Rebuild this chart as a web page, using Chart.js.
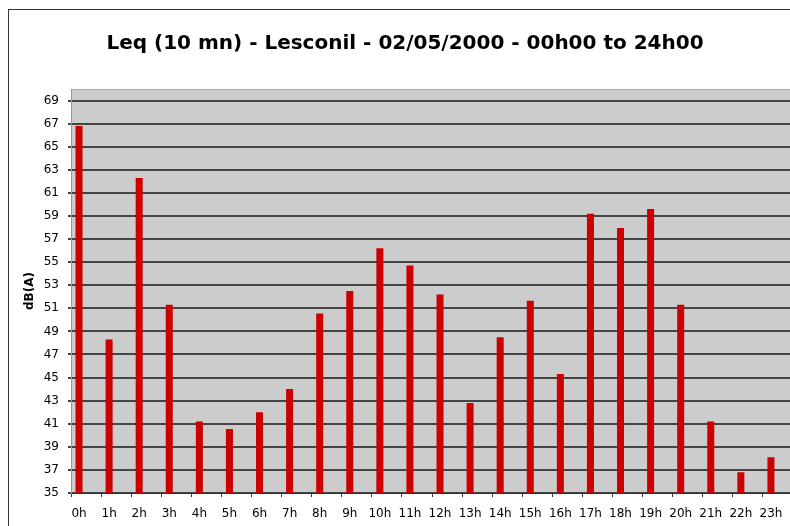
<!DOCTYPE html>
<html>
<head>
<meta charset="utf-8">
<title>Leq Lesconil</title>
<script src="https://cdn.jsdelivr.net/npm/chart.js@4.4.1/dist/chart.umd.min.js"></script>
<style>
  html, body { margin: 0; padding: 0; background: #fff; overflow: hidden; }
  #wrap { position: absolute; left: 0; top: 0; width: 810px; height: 540px; }
</style>
</head>
<body>
<div id="wrap"><canvas id="leqChart" width="810" height="540"></canvas></div>
<script>
// Données
const hours = ["0h", "1h", "2h", "3h", "4h", "5h", "6h", "7h", "8h", "9h", "10h", "11h",
  "12h", "13h", "14h", "15h", "16h", "17h", "18h", "19h", "20h", "21h", "22h", "23h"];
const leqValues = [66.8, 48.3, 62.3, 51.3, 41.2, 40.55, 42.0, 44.0, 50.55, 52.5, 56.2, 54.7,
  52.2, 42.8, 48.5, 51.65, 45.3, 59.2, 57.95, 59.6, 51.3, 41.2, 36.8, 38.1];
const yTickValues = [35, 37, 39, 41, 43, 45, 47, 49, 51, 53, 55, 57, 59, 61, 63, 65, 67, 69];
const titleText = "Leq (10 mn) - Lesconil - 02/05/2000 - 00h00 to 24h00";
const yAxisTitle = "dB(A)";

const FONT = "'DejaVu Sans', Verdana, sans-serif";

// fond gris de la zone de tracé + cadre extérieur
const backgroundPlugin = {
  id: "plotBackground",
  beforeDraw(chart) {
    const { ctx, chartArea: a } = chart;
    ctx.save();
    ctx.strokeStyle = "#333";
    ctx.lineWidth = 1;
    ctx.strokeRect(8.5, 9.5, 1000, 1000);
    ctx.fillStyle = "#cccccc";
    ctx.fillRect(a.left, a.top, a.right - a.left, a.bottom - a.top);
    ctx.strokeStyle = "#aaaaaa";
    ctx.strokeRect(a.left + 0.5, a.top + 0.5, a.right - a.left, a.bottom - a.top);
    ctx.restore();
  }
};

const ctx = document.getElementById("leqChart").getContext("2d");
new Chart(ctx, {
  type: "bar",
  data: {
    labels: hours,
    datasets: [
      { label: "Leq", data: leqValues, backgroundColor: "#cc0000", borderWidth: 0 },
      // séries vides : la barre occupe la première place du groupe, comme dans l'original
      { label: "", data: [], backgroundColor: "transparent" },
      { label: "", data: [], backgroundColor: "transparent" }
    ]
  },
  options: {
    responsive: false,
    animation: false,
    devicePixelRatio: 1,
    categoryPercentage: 0.7,
    barPercentage: 1.0,
    layout: { padding: { left: 17, right: 17, top: 0, bottom: 20 } },
    plugins: {
      legend: { display: false },
      tooltip: { enabled: false },
      title: {
        display: true,
        text: titleText,
        color: "#000",
        font: { family: FONT, size: 20, weight: "bold" },
        padding: { top: 32, bottom: 33 }
      }
    },
    scales: {
      x: {
        offset: true,
        grid: { offset: true, drawOnChartArea: false, drawTicks: true, tickLength: 4, color: "#333" },
        border: { display: true, color: "#333", width: 1 },
        ticks: {
          color: "#000",
          font: { family: FONT, size: 12 },
          labelOffset: -7,
          padding: 10,
          maxRotation: 0,
          autoSkip: false
        },
        afterFit(scale) { scale.height = 27; }
      },
      y: {
        min: 35,
        max: 70,
        afterBuildTicks(scale) {
          scale.ticks = yTickValues.map(v => ({ value: v }));
        },
        grid: { color: "#444", lineWidth: 2, drawTicks: true, tickLength: 3 },
        border: { display: true, color: "#999", width: 1 },
        ticks: {
          color: "#000",
          font: { family: FONT, size: 12 },
          padding: 9
        },
        title: {
          display: true,
          text: yAxisTitle,
          color: "#000",
          font: { family: FONT, size: 12, weight: "bold" },
          padding: { top: 6, bottom: 0 }
        },
        afterFit(scale) { scale.width = 54; }
      }
    }
  },
  plugins: [backgroundPlugin]
});
</script>
</body>
</html>
